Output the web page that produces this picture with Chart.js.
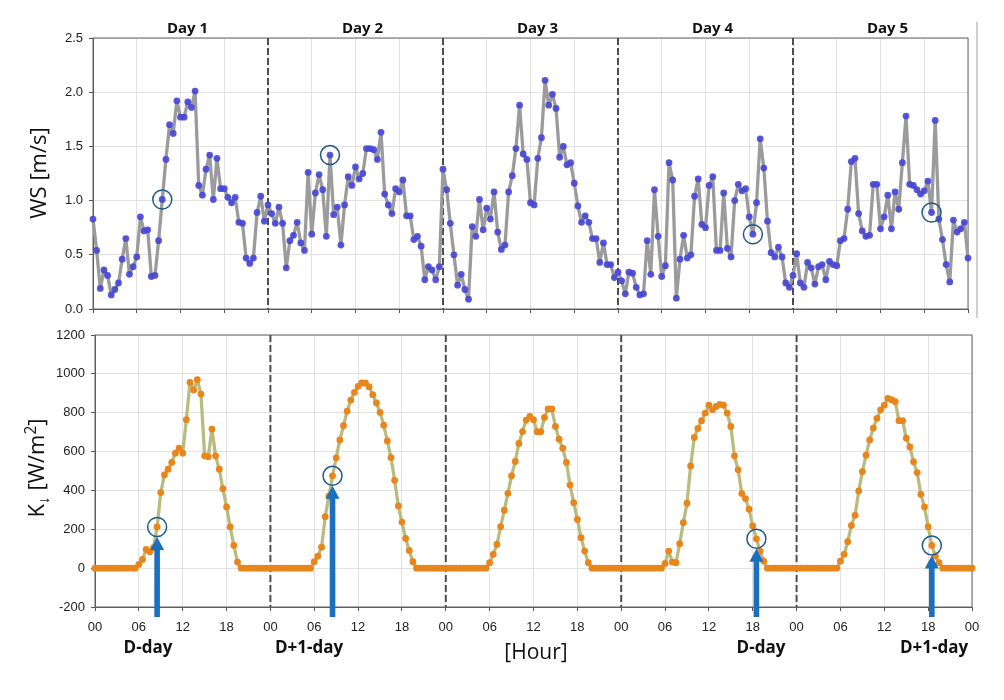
<!DOCTYPE html>
<html>
<head>
<meta charset="utf-8">
<script src="https://cdn.jsdelivr.net/npm/chart.js@4.4.1/dist/chart.umd.min.js"></script>
<style>
  body { margin: 0; background: #fff; width: 1004px; height: 700px; position: relative; overflow: hidden; font-family: "Open Sans", sans-serif; }
  canvas { position: absolute; left: 0; }
  #cTop { top: 0; width: 1004px; height: 330px; }
  #cBot { top: 320px; width: 1004px; height: 380px; }
  .lbl { position: absolute; white-space: nowrap; transform: translate(-50%, -50%); color: #111; }
  .day { font-weight: bold; font-size: 15px; top: 27px; }
  .dd { font-weight: bold; font-size: 17px; top: 646px; }
  .ytitle { position: absolute; white-space: nowrap; transform: translate(-50%, -50%) rotate(-90deg); font-size: 22px; color: #111; }
  .ytitle sub, .ytitle sup { font-size: 0.7em; }
  #edge { position: absolute; left: 976px; top: 22px; width: 2px; height: 296px; background: #cfcfcf; }
</style>
</head>
<body>
<canvas id="cTop" width="1004" height="330"></canvas>
<canvas id="cBot" width="1004" height="380"></canvas>
<div id="edge"></div>

<div class="ytitle" style="left:37px; top:173px;">WS [m/s]</div>
<div class="ytitle" style="left:37px; top:468px;">K<sub>↓</sub> [W/m<sup>2</sup>]</div>

<div id="dayLabels"></div>

<div class="lbl dd" style="left:148px;">D-day</div>
<div class="lbl dd" style="left:309px;">D+1-day</div>
<div class="lbl" style="left:536px; top:651px; font-size:21px;">[Hour]</div>
<div class="lbl dd" style="left:761px;">D-day</div>
<div class="lbl dd" style="left:934px;">D+1-day</div>

<script>
// half-hourly values, 48 per day, plus the closing 00 of day 6
const dayNames = ['Day 1', 'Day 2', 'Day 3', 'Day 4', 'Day 5'];
const hourLabels = ['00', '06', '12', '18'];
const dayBounds = [48, 96, 144, 192];

// wind speed [m/s]
const wsDay1 = [0.83, 0.54, 0.19, 0.36, 0.31, 0.13, 0.18, 0.24, 0.46, 0.65, 0.32, 0.39, 0.48, 0.85, 0.72, 0.73,
  0.30, 0.31, 0.63, 1.01, 1.38, 1.70, 1.62, 1.92, 1.77, 1.77, 1.91, 1.86, 2.01, 1.14, 1.05, 1.29,
  1.42, 1.01, 1.39, 1.11, 1.11, 1.03, 0.98, 1.03, 0.80, 0.79, 0.47, 0.42, 0.47, 0.89, 1.04, 0.81];
const wsDay2 = [0.96, 0.88, 0.79, 0.94, 0.79, 0.38, 0.63, 0.68, 0.80, 0.61, 0.54, 1.26, 0.69, 1.07, 1.24, 1.10,
  0.67, 1.42, 0.87, 0.94, 0.59, 0.96, 1.22, 1.14, 1.31, 1.20, 1.25, 1.48, 1.48, 1.47, 1.38, 1.63,
  1.06, 0.96, 0.88, 1.11, 1.08, 1.19, 0.86, 0.86, 0.64, 0.67, 0.58, 0.27, 0.39, 0.36, 0.27, 0.39];
const wsDay3 = [1.29, 1.10, 0.79, 0.50, 0.22, 0.32, 0.18, 0.09, 0.76, 0.67, 1.01, 0.73, 0.93, 0.83, 1.08, 0.71,
  0.55, 0.59, 1.08, 1.23, 1.48, 1.88, 1.43, 1.38, 0.98, 0.96, 1.39, 1.58, 2.11, 1.88, 1.98, 1.85,
  1.40, 1.50, 1.33, 1.35, 1.16, 0.95, 0.80, 0.86, 0.80, 0.65, 0.65, 0.43, 0.61, 0.41, 0.41, 0.29];
const wsDay4 = [0.34, 0.26, 0.14, 0.34, 0.33, 0.20, 0.13, 0.14, 0.63, 0.32, 1.10, 0.67, 0.30, 0.40, 1.35, 1.19,
  0.10, 0.46, 0.68, 0.47, 0.50, 1.04, 1.20, 0.78, 0.75, 1.14, 1.22, 0.54, 0.54, 1.07, 0.56, 0.48,
  1.00, 1.15, 1.09, 1.11, 0.85, 0.69, 0.98, 1.57, 1.30, 0.81, 0.52, 0.48, 0.57, 0.48, 0.24, 0.20];
const wsDay5 = [0.31, 0.51, 0.24, 0.20, 0.43, 0.38, 0.23, 0.39, 0.41, 0.27, 0.44, 0.41, 0.40, 0.63, 0.65, 0.92,
  1.36, 1.39, 0.88, 0.72, 0.67, 0.68, 1.15, 1.15, 0.74, 0.85, 1.05, 0.74, 1.08, 0.92, 1.35, 1.78,
  1.15, 1.14, 1.10, 1.06, 1.09, 1.18, 0.89, 1.74, 0.83, 0.64, 0.41, 0.25, 0.82, 0.71, 0.74, 0.80];
const wsEnd = [0.47];

// incoming shortwave K [W/m2]
const kDay1 = [0, 0, 0, 0, 0, 0, 0, 0, 0, 0, 0, 0, 19, 45, 96, 84,
  105, 212, 389, 480, 509, 544, 592, 618, 592, 764, 956, 917, 970, 896, 578, 573,
  716, 578, 509, 409, 315, 212, 117, 31, 0, 0, 0, 0, 0, 0, 0, 0];
const kDay2 = [0, 0, 0, 0, 0, 0, 0, 0, 0, 0, 0, 0, 33, 62, 108, 265,
  370, 475, 568, 660, 733, 808, 865, 905, 936, 953, 953, 934, 893, 850, 802, 736,
  655, 569, 452, 320, 237, 153, 91, 33, 0, 0, 0, 0, 0, 0, 0, 0];
const kDay3 = [0, 0, 0, 0, 0, 0, 0, 0, 0, 0, 0, 0, 28, 71, 122, 213,
  298, 385, 475, 549, 642, 703, 762, 781, 764, 702, 702, 776, 819, 819, 729, 664,
  617, 544, 428, 337, 251, 157, 88, 28, 0, 0, 0, 0, 0, 0, 0, 0];
const kDay4 = [0, 0, 0, 0, 0, 0, 0, 0, 0, 0, 0, 0, 24, 88, 31, 28,
  126, 234, 334, 526, 673, 719, 759, 798, 839, 815, 832, 843, 839, 798, 729, 578,
  506, 384, 358, 303, 217, 151, 88, 36, 0, 0, 0, 0, 0, 0, 0, 0];
const kDay5 = [0, 0, 0, 0, 0, 0, 0, 0, 0, 0, 0, 0, 36, 71, 136, 220,
  272, 397, 497, 581, 660, 721, 771, 815, 839, 874, 867, 857, 759, 759, 669, 624,
  547, 492, 380, 315, 213, 117, 62, 28, 0, 0, 0, 0, 0, 0, 0, 0];
const kEnd = [0];

// circled samples (index into the full series)
const wsMarked = [19, 65, 181, 230];
const kMarked = [17, 65, 181, 229];

const windSpeed = [...wsDay1, ...wsDay2, ...wsDay3, ...wsDay4, ...wsDay5, ...wsEnd];
const radiation = [...kDay1, ...kDay2, ...kDay3, ...kDay4, ...kDay5, ...kEnd];
const toXY = arr => arr.map((v, i) => ({ x: i, y: v }));

const tickFont = { family: 'Liberation Sans', size: 13 };
const gridOpts = { color: '#e2e2e2', tickColor: '#555', tickLength: 4 };
const borderOpts = { color: '#555', width: 1 };

// box round the plot and the dashed day separators
const framePlugin = {
  id: 'frame',
  beforeDatasetsDraw(chart) {
    const { ctx, chartArea: a, scales } = chart;
    ctx.save();
    ctx.strokeStyle = '#666';
    ctx.lineWidth = 1;
    ctx.strokeRect(a.left, a.top, a.right - a.left, a.bottom - a.top);
    ctx.strokeStyle = '#4d4d4d';
    ctx.lineWidth = 2;
    ctx.setLineDash([7, 3]);
    dayBounds.forEach(b => {
      const x = scales.x.getPixelForValue(b);
      ctx.beginPath();
      ctx.moveTo(x, a.top);
      ctx.lineTo(x, a.bottom);
      ctx.stroke();
    });
    ctx.restore();
  }
};

function ringPlugin(series, marked) {
  return {
    id: 'rings',
    afterDatasetsDraw(chart) {
      const { ctx, scales } = chart;
      ctx.save();
      ctx.strokeStyle = '#1f5b86';
      ctx.lineWidth = 1.5;
      marked.forEach(i => {
        ctx.beginPath();
        ctx.arc(scales.x.getPixelForValue(i), scales.y.getPixelForValue(series[i]), 9.5, 0, Math.PI * 2);
        ctx.stroke();
      });
      ctx.restore();
    }
  };
}

const arrowPlugin = {
  id: 'arrows',
  afterDraw(chart) {
    const { ctx, chartArea: a, scales } = chart;
    ctx.save();
    ctx.fillStyle = '#1b6fbf';
    kMarked.forEach(i => {
      const x = scales.x.getPixelForValue(i);
      const tip = scales.y.getPixelForValue(radiation[i]) + 10;
      const base = a.bottom + 10;
      ctx.fillRect(x - 2.8, tip + 12, 5.6, base - tip - 12);
      ctx.beginPath();
      ctx.moveTo(x, tip);
      ctx.lineTo(x + 7, tip + 13);
      ctx.lineTo(x - 7, tip + 13);
      ctx.closePath();
      ctx.fill();
    });
    ctx.restore();
  }
};

const topChart = new Chart(document.getElementById('cTop'), {
  type: 'line',
  data: {
    datasets: [{
      data: toXY(windSpeed),
      borderColor: '#9b9b9b',
      borderWidth: 3.3,
      borderJoinStyle: 'round',
      borderCapStyle: 'round',
      pointRadius: 3.4,
      pointBorderWidth: 0,
      pointBackgroundColor: 'rgba(70,70,215,0.9)',
      tension: 0,
      clip: false
    }]
  },
  options: {
    responsive: false,
    animation: false,
    events: [],
    layout: { padding: { left: 0, right: 36, top: 38, bottom: 0 } },
    plugins: { legend: { display: false }, tooltip: { enabled: false } },
    scales: {
      x: {
        type: 'linear', min: 0, max: 240,
        ticks: { stepSize: 12, maxTicksLimit: 30, autoSkip: false, callback: () => '' },
        grid: gridOpts, border: borderOpts,
        afterFit: s => { s.height = 21; }
      },
      y: {
        min: 0, max: 2.5,
        ticks: { stepSize: 0.5, callback: v => v.toFixed(1), font: tickFont, color: '#222', padding: 6 },
        grid: gridOpts, border: borderOpts,
        afterFit: s => { s.width = 93; }
      }
    }
  },
  plugins: [framePlugin, ringPlugin(windSpeed, wsMarked)]
});

const botChart = new Chart(document.getElementById('cBot'), {
  type: 'line',
  data: {
    datasets: [{
      data: toXY(radiation),
      borderColor: '#b9bc7e',
      borderWidth: 3.3,
      borderJoinStyle: 'round',
      borderCapStyle: 'round',
      pointRadius: 3.4,
      pointBorderWidth: 0,
      pointBackgroundColor: '#e8861c',
      tension: 0,
      clip: false
    }]
  },
  options: {
    responsive: false,
    animation: false,
    events: [],
    layout: { padding: { left: 0, right: 32, top: 15, bottom: 62 } },
    plugins: { legend: { display: false }, tooltip: { enabled: false } },
    scales: {
      x: {
        type: 'linear', min: 0, max: 240,
        ticks: {
          stepSize: 12, maxTicksLimit: 30, autoSkip: false, maxRotation: 0,
          callback: v => hourLabels[(v / 12) % 4],
          font: tickFont, color: '#222', padding: 9
        },
        grid: gridOpts, border: borderOpts,
        afterFit: s => { s.height = 31; }
      },
      y: {
        min: -200, max: 1200,
        ticks: { stepSize: 200, callback: v => String(v), font: tickFont, color: '#222', padding: 6 },
        grid: gridOpts, border: borderOpts,
        afterFit: s => { s.width = 95; }
      }
    }
  },
  plugins: [framePlugin, ringPlugin(radiation, kMarked), arrowPlugin]
});

// day titles centred over each day of the top panel
const holder = document.getElementById('dayLabels');
dayNames.forEach((name, d) => {
  const el = document.createElement('div');
  el.className = 'lbl day';
  el.textContent = name;
  el.style.left = (topChart.scales.x.getPixelForValue(d * 48 + 24) + 7) + 'px';
  holder.appendChild(el);
});
</script>
</body>
</html>
